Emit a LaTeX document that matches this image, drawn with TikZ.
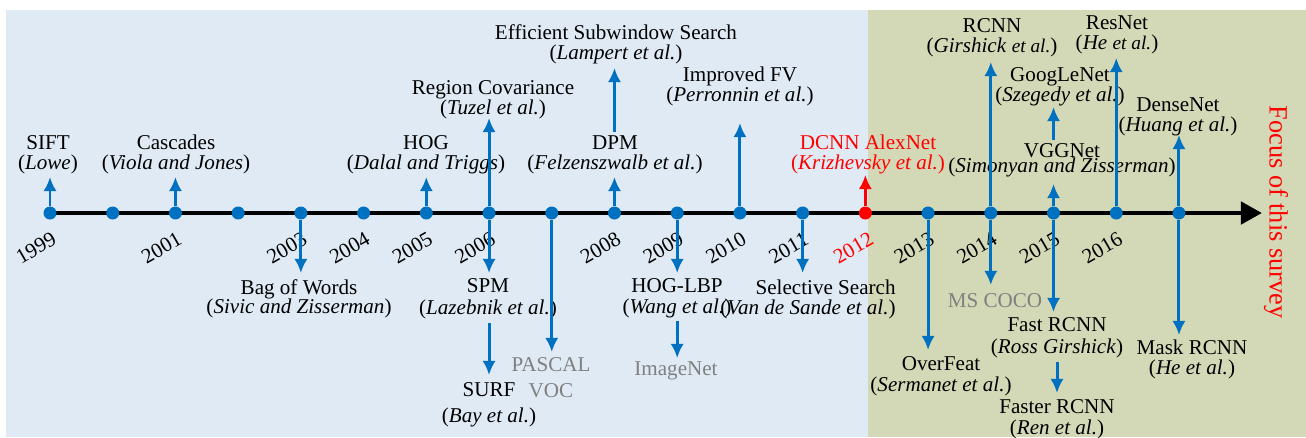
\documentclass[tikz,border=0pt]{standalone}
\usepackage{fontspec}
\setmainfont{Liberation Serif}
\newfontfamily\tlfont{Liberation Serif}
\usetikzlibrary{arrows.meta, calc}
\definecolor{bgblue}{RGB}{223,234,244}
\definecolor{bggreen}{RGB}{211,217,182}
\definecolor{tlblue}{RGB}{0,112,192}
\definecolor{tlgray}{RGB}{128,128,128}
\tikzset{
  dot/.style = {circle, fill=tlblue, inner sep=0pt, minimum size=0.26cm},
  arr/.style = {-{Latex[length=8pt,width=7.5pt]}, line width=1.7pt, tlblue},
  uplbl/.style = {anchor=south, align=center, inner sep=2pt},
  dnlbl/.style = {anchor=north, align=center, inner sep=2pt},
  yearlbl/.style = {rotate=30, inner sep=0pt}
}
\newcommand{\etal}{{\fontsize{11}{12}\selectfont\textit{et al.}}}

\begin{document}
\begin{tikzpicture}[x=0.02cm, y=-0.02cm, font=\tlfont\fontsize{12}{11.5}\selectfont]
\useasboundingbox (0,0) rectangle (1306,437);
\fill[bgblue] (6,10) rectangle (868,437);
\fill[bggreen] (868,10) rectangle (1306,437);

\coordinate (axend) at (1262,213);
\draw[line width=2.8pt, -{Triangle[length=12pt,width=12.5pt]}] (50,213) -- (axend);
\foreach \yr in {1999,...,2017} {
  \pgfmathsetmacro\xx{50+62.72*(\yr-1999)}
  \ifnum\yr=2012
    \node[dot, fill=red] (d\yr) at (\xx,213) {};
  \else
    \node[dot] (d\yr) at (\xx,213) {};
  \fi
}
\foreach \yr in {1999,2001,2003,2004,2005,2006,2008,2009,2010,2011,2013,2014,2015,2016} {
  \node[yearlbl] (y\yr) at ($(d\yr)+(-14,35)$) {\yr};
}
\node[yearlbl, text=red] (y2012) at ($(d2012)+(-12,35)$) {2012};

% labels above the axis
\node[uplbl] (SIFT) at (48,178) {SIFT\\(\textit{Lowe})};
\node[uplbl] (Cascades) at (176,178) {Cascades\\(\textit{Viola and Jones})};
\node[uplbl] (HOG) at (426,178) {HOG\\(\textit{Dalal and Triggs})};
\node[uplbl] (RegCov) at (493,123) {Region Covariance\\(\textit{Tuzel et al.})};
\node[uplbl] (DPM) at (615,178) {DPM\\(\textit{Felzenszwalb et al.})};
\node[uplbl] (ESS) at (616,68) {Efficient Subwindow Search\\(\textit{Lampert et al.})};
\node[uplbl] (ImpFV) at (740,110) {Improved FV\\(\textit{Perronnin et al.})};
\node[uplbl, text=red] (AlexNet) at (868,178) {DCNN AlexNet\\(\textit{Krizhevsky et al.})};
\node[uplbl] (RCNN) at (992,61) {RCNN\\(\textit{Girshick} \etal)};
\node[uplbl] (VGG) at (1062,181) {VGGNet\\[-3pt](\textit{Simonyan and Zisserman})};
\node[uplbl] (GoogLeNet) at (1060,110) {GoogLeNet\\(\textit{Szegedy et al.})};
\node[uplbl] (ResNet) at (1117,58) {ResNet\\(\textit{He} \etal)};
\node[uplbl] (DenseNet) at (1178,140) {DenseNet\\(\textit{Huang et al.})};

% labels below the axis
\node[dnlbl] (BoW) at (299,276) {Bag of Words\\[-1pt](\textit{Sivic and Zisserman})};
\node[dnlbl] (SPM) at (488,275) {SPM\\[1pt](\textit{Lazebnik et al.})};
\node[dnlbl] (SURF) at (489,379) {SURF\\[3pt](\textit{Bay et al.})};
\node[dnlbl, text=tlgray] (PASCAL) at (551,354) {PASCAL\\[3pt]VOC};
\node[dnlbl] (HOGLBP) at (677,275) {HOG-LBP\\(\textit{Wang et al.})};
\node[dnlbl, text=tlgray] (ImageNet) at (676,358) {ImageNet};
\node[dnlbl, align=right] (SelSearch) at (808,276) {Selective Search\\(\textit{Van de Sande et al.})};
\node[dnlbl] (OverFeat) at (941,353) {OverFeat\\(\textit{Sermanet et al.})};
\node[dnlbl, text=tlgray] (MSCOCO) at (995,290) {MS COCO};
\node[dnlbl] (FastRCNN) at (1057,314) {Fast RCNN\\[1pt](\textit{Ross Girshick})};
\node[dnlbl] (FasterRCNN) at (1057,396) {Faster RCNN\\(\textit{Ren et al.})};
\node[dnlbl] (MaskRCNN) at (1192,336) {Mask RCNN\\(\textit{He et al.})};

\node[rotate=-90, text=red, font=\tlfont\fontsize{15}{17}\selectfont] (focus) at (1276,212) {Focus of this survey};

% arrow tips
\coordinate (tSIFT) at (d1999 |- 0,177);
\coordinate (tCascades) at (d2001 |- 0,177);
\coordinate (tHOG) at (d2005 |- 0,177);
\coordinate (tRegCov) at (d2006 |- 0,118);
\coordinate (tDPM) at (d2008 |- 0,177);
\coordinate (tESS) at (d2008 |- 0,68);
\coordinate (tImpFV) at (d2010 |- 0,123);
\coordinate (tAlexNet) at (d2012 |- 0,175);
\coordinate (tRCNN) at (d2014 |- 0,62);
\coordinate (tVGG) at (d2015 |- 0,184);
\coordinate (tGoogLeNet) at (d2015 |- 0,107);
\coordinate (tResNet) at (d2016 |- 0,58);
\coordinate (tDenseNet) at (d2017 |- 0,135);
\coordinate (tBoW) at (d2003 |- 0,273);
\coordinate (tSPM) at (d2006 |- 0,273);
\coordinate (tSURF) at (d2006 |- 0,375);
\coordinate (tPASCAL) at (d2007 |- 0,352);
\coordinate (tHOGLBP) at (d2009 |- 0,273);
\coordinate (tImageNet) at (d2009 |- 0,358);
\coordinate (tSelSearch) at (d2011 |- 0,273);
\coordinate (tOverFeat) at (d2013 |- 0,350);
\coordinate (tMSCOCO) at (d2014 |- 0,285);
\coordinate (tFastRCNN) at (d2015 |- 0,312);
\coordinate (tFasterRCNN) at (FastRCNN.south |- 0,393);
\coordinate (tMaskRCNN) at (d2017 |- 0,335);

\draw[arr] (d1999) -- (tSIFT);
\draw[arr] (d2001) -- (tCascades);
\draw[arr] (d2005) -- (tHOG);
\draw[arr] (d2006) -- (tRegCov);
\draw[arr] (d2008) -- (tDPM);
\draw[arr] (d2008 |- DPM.north) -- (tESS);
\draw[arr] (d2010) -- (tImpFV);
\draw[arr, red] (d2012) -- (tAlexNet);
\draw[arr] (d2014) -- (tRCNN);
\draw[arr] (d2015) -- (tVGG);
\draw[arr] (d2015 |- VGG.north) -- (tGoogLeNet);
\draw[arr] (d2016) -- (tResNet);
\draw[arr] (d2017) -- (tDenseNet);

\draw[arr] (d2003) -- (tBoW);
\draw[arr] (d2006) -- (tSPM);
\draw[arr] (d2006 |- SPM.south) -- (tSURF);
\draw[arr] (d2007) -- (tPASCAL);
\draw[arr] (d2009) -- (tHOGLBP);
\draw[arr] (d2009 |- HOGLBP.south) -- (tImageNet);
\draw[arr] (d2011) -- (tSelSearch);
\draw[arr] (d2013) -- (tOverFeat);
\draw[arr] (d2014) -- (tMSCOCO);
\draw[arr] (d2015) -- (tFastRCNN);
\draw[arr] (FastRCNN.south) -- (tFasterRCNN);
\draw[arr] (d2017) -- (tMaskRCNN);
\end{tikzpicture}
\end{document}
